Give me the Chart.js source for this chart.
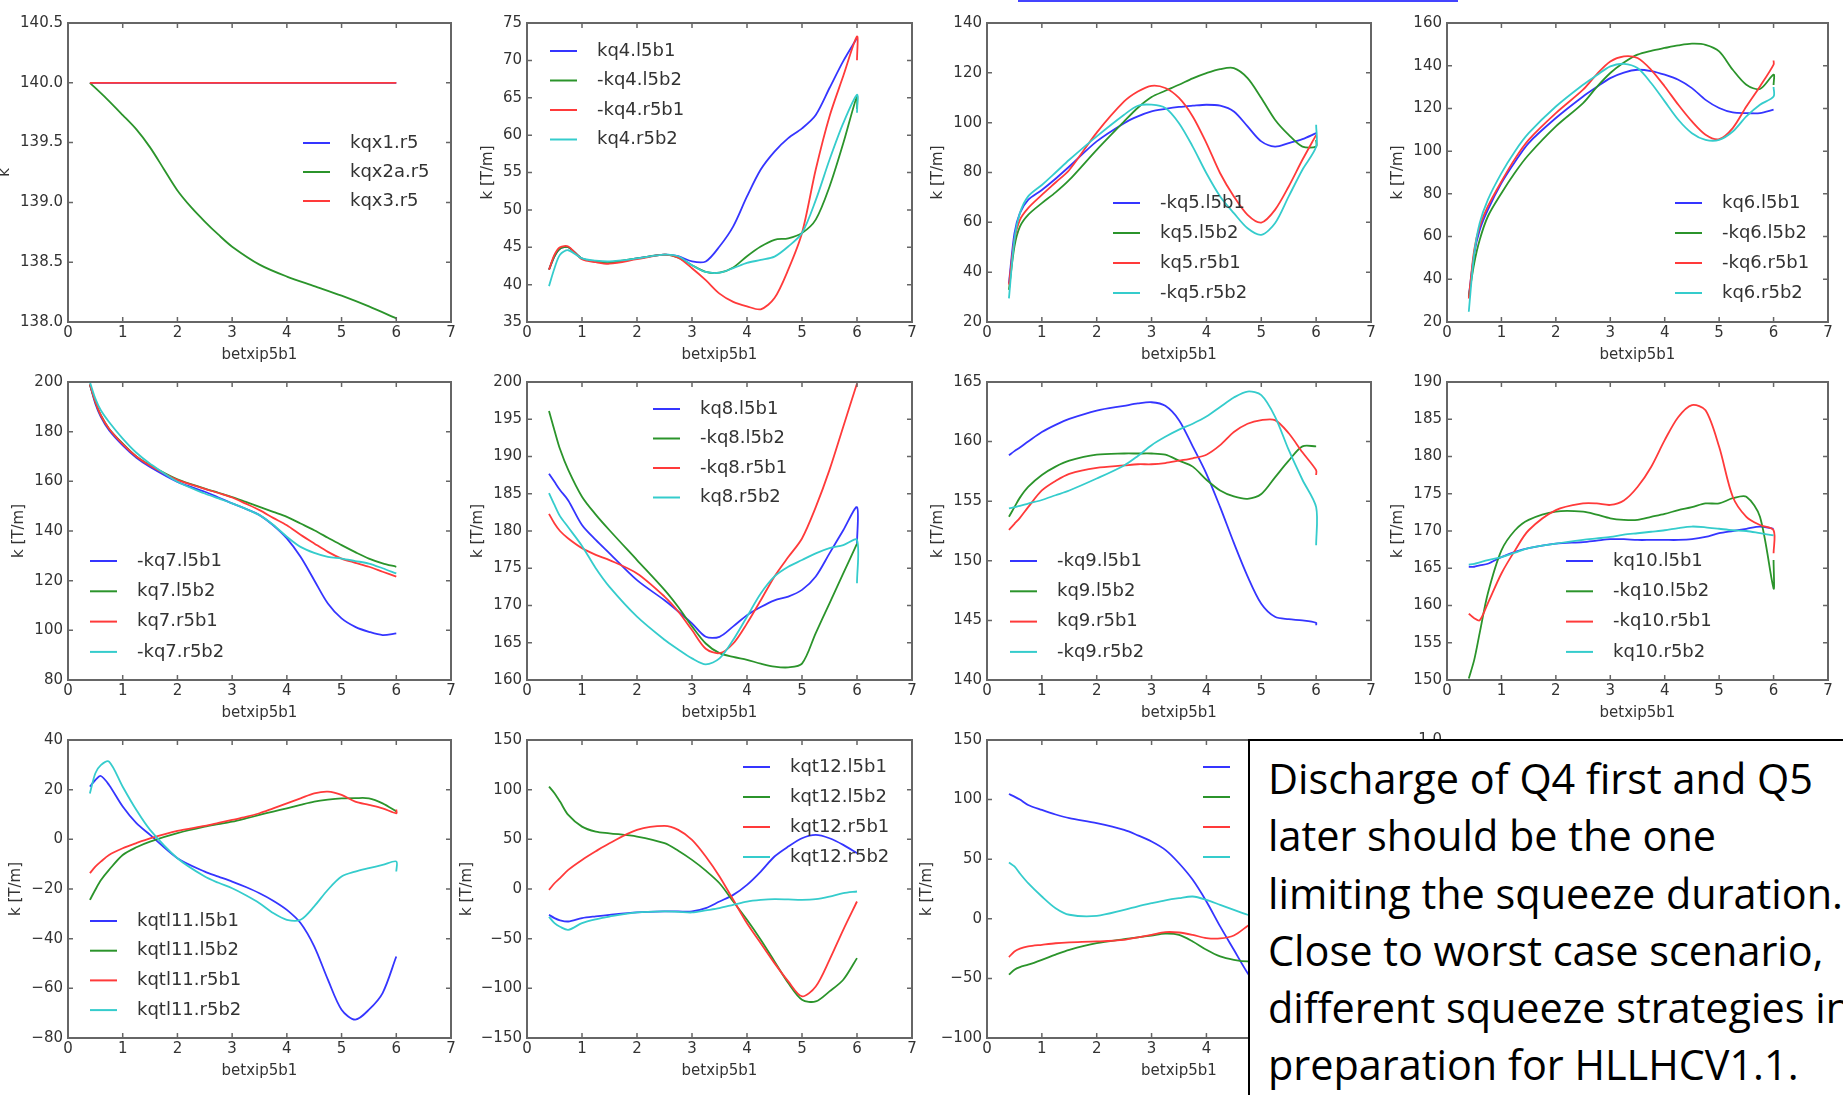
<!DOCTYPE html>
<html>
<head>
<meta charset="utf-8">
<title>Squeeze knobs vs betxip5b1</title>
<script src="https://cdn.jsdelivr.net/npm/chart.js@4.4.1/dist/chart.umd.min.js"></script>
<style>
    html, body { margin: 0; padding: 0; background: #fff; }
    #page { position: relative; width: 1843px; height: 1095px; overflow: hidden; background: #fff; }
    #page canvas { position: absolute; filter: blur(0.5px); }
    .link-line { position: absolute; left: 1018px; top: 0; width: 440px; height: 2px; background: #4444ff; }
    .note {
        position: absolute; left: 1248px; top: 739px; width: 700px; height: 420px; z-index: 10;
        box-sizing: border-box; border: 2px solid #000; background: #fff;
        padding: 9px 0 0 18px; color: #000; white-space: nowrap;
        font-family: 'Open Sans', sans-serif; font-size: 41.4px; line-height: 57.3px;
    }
</style>
</head>
<body>
<div id="page">
    <div class="link-line"></div>
    <div class="note">Discharge of Q4 first and Q5<br>later should be the one<br>limiting the squeeze duration.<br>Close to worst case scenario,<br>different squeeze strategies in<br>preparation for HLLHCV1.1.</div>
</div>
<script>
// betxip5b1 sample points (the last one is doubled: the scans end with a jump at 6)
const betxip = [0.4, 0.5, 0.6, 0.75, 1, 1.25, 1.5, 2, 2.5, 2.75, 3, 3.25, 3.5, 3.75, 4, 4.25, 4.5, 4.75, 5, 5.25, 5.5, 5.75, 6, 6];
const betxipShort = [0.4, 0.5, 0.6, 0.75, 1, 1.25, 1.5, 2, 2.5, 2.75, 3, 3.25, 3.5, 3.75, 4, 4.25, 4.5, 4.75, 5];
const betxipTriplet = [0.4, 0.7, 1, 1.25, 1.5, 1.75, 2, 2.25, 2.5, 2.75, 3, 3.5, 4, 4.5, 5, 5.5, 6];
const xTickValues = [0, 1, 2, 3, 4, 5, 6, 7];

// triplet
const kqxNames = ['kqx1.r5', 'kqx2a.r5', 'kqx3.r5'];
const kqxTicks = [138.0, 138.5, 139.0, 139.5, 140.0, 140.5];
const kqx1 = [140, 140, 140, 140, 140, 140, 140, 140, 140, 140, 140, 140, 140, 140, 140, 140, 140];
const kqx2a = [140.0, 139.87, 139.73, 139.61, 139.46, 139.28, 139.1, 138.96, 138.84, 138.73, 138.63, 138.48, 138.38, 138.3, 138.22, 138.13, 138.03];
const kqx3 = [140, 140, 140, 140, 140, 140, 140, 140, 140, 140, 140, 140, 140, 140, 140, 140, 140];

// Q4
const kq4Names = ['kq4.l5b1', '-kq4.l5b2', '-kq4.r5b1', 'kq4.r5b2'];
const kq4Ticks = [35, 40, 45, 50, 55, 60, 65, 70, 75];
const kq4L5b1 = [42.0, 43.8, 44.8, 45.0, 43.5, 43.1, 42.9, 43.5, 44.0, 43.8, 43.1, 43.1, 45.1, 47.8, 51.8, 55.4, 57.8, 59.6, 60.9, 62.7, 66.3, 69.9, 73.0, 73.0];
const kq4L5b2 = [42.0, 43.8, 44.8, 45.0, 43.5, 43.1, 43.0, 43.5, 44.0, 43.6, 42.6, 41.7, 41.6, 42.3, 43.8, 45.1, 46.0, 46.2, 46.9, 48.7, 53.1, 58.9, 65.2, 63.5];
const kq4R5b1 = [42.0, 44.0, 45.0, 45.1, 43.4, 43.0, 42.8, 43.4, 44.0, 43.6, 42.2, 40.6, 38.8, 37.7, 37.1, 36.7, 38.2, 42.0, 46.9, 55.4, 62.5, 67.9, 73.2, 70.0];
const kq4R5b2 = [39.8, 42.2, 44.0, 44.6, 43.5, 43.2, 43.1, 43.5, 44.0, 43.8, 42.6, 41.7, 41.6, 42.2, 42.9, 43.3, 43.75, 45.1, 46.9, 51.3, 56.7, 61.6, 65.4, 63.0];

// Q5
const kq5Names = ['-kq5.l5b1', 'kq5.l5b2', 'kq5.r5b1', '-kq5.r5b2'];
const kq5Ticks = [20, 40, 60, 80, 100, 120, 140];
const kq5L5b1 = [35.5, 55.6, 63.7, 69.0, 73.0, 77.5, 82.4, 92.5, 99.8, 102.5, 104.5, 105.5, 106.3, 106.8, 107.2, 106.8, 104.5, 98.5, 92.5, 90.4, 91.8, 93.4, 95.8, 95.8];
const kq5L5b2 = [32.9, 50.3, 58.3, 63.0, 67.7, 72.0, 77.0, 89.1, 100.5, 106.0, 110.3, 112.8, 115.2, 117.8, 119.9, 121.5, 121.9, 117.9, 109.9, 101.2, 95.1, 90.4, 90.4, 93.0];
const kq5R5b1 = [35.0, 53.0, 61.0, 65.7, 71.0, 76.0, 81.0, 96.0, 108.5, 112.5, 114.8, 113.9, 109.9, 102.5, 91.8, 79.7, 70.4, 63.0, 59.9, 65.0, 74.4, 85.1, 95.1, 95.1];
const kq5R5b2 = [29.5, 53.0, 63.7, 70.4, 75.0, 80.0, 85.1, 94.5, 103.2, 106.8, 107.2, 105.9, 99.8, 90.4, 79.7, 70.4, 63.7, 57.6, 55.0, 59.6, 70.4, 81.1, 90.4, 99.2];

// Q6
const kq6Names = ['kq6.l5b1', '-kq6.l5b2', '-kq6.r5b1', 'kq6.r5b2'];
const kq6Ticks = [20, 40, 60, 80, 100, 120, 140, 160];
const kq6L5b1 = [31.9, 52.0, 63.0, 72.5, 85.0, 95.0, 103.8, 115.5, 125.6, 130.0, 134.2, 136.8, 138.1, 137.5, 135.8, 133.4, 129.5, 124.0, 120.2, 118.1, 117.8, 117.8, 119.4, 119.4];
const kq6L5b2 = [32.0, 47.5, 58.4, 69.4, 80.3, 90.0, 98.3, 111.6, 122.5, 130.0, 136.6, 141.5, 145.2, 147.0, 148.3, 149.5, 150.3, 149.8, 146.7, 138.1, 131.1, 129.1, 135.8, 131.0];
const kq6R5b1 = [31.0, 53.75, 64.7, 74.1, 85.8, 96.5, 105.3, 117.8, 128.8, 136.0, 142.0, 144.4, 143.6, 138.1, 130.3, 121.7, 113.9, 107.7, 105.6, 110.8, 120.9, 130.3, 140.5, 142.5];
const kq6R5b2 = [24.8, 52.0, 66.25, 77.2, 89.7, 100.0, 108.4, 120.9, 131.1, 135.5, 139.7, 140.9, 138.9, 131.9, 123.3, 114.7, 108.4, 105.3, 105.3, 109.2, 116.25, 121.7, 125.6, 130.0];

// Q7
const kq7Names = ['-kq7.l5b1', 'kq7.l5b2', 'kq7.r5b1', '-kq7.r5b2'];
const kq7Ticks = [80, 100, 120, 140, 160, 180, 200];
const kq7L5b1 = [199.0, 191.3, 186.0, 180.6, 174.5, 169.5, 165.8, 159.8, 155.8, 153.5, 151.1, 148.9, 146.4, 142.3, 137.0, 129.6, 120.2, 110.8, 104.8, 101.4, 99.4, 98.1, 98.8, 98.8];
const kq7L5b2 = [199.0, 192.0, 186.6, 181.2, 175.2, 170.0, 166.5, 160.8, 157.1, 155.4, 153.7, 151.7, 149.7, 147.7, 145.7, 143.0, 140.3, 137.3, 134.3, 131.5, 128.9, 127.0, 125.6, 125.6];
const kq7R5b1 = [199.0, 192.0, 186.6, 181.2, 175.0, 170.0, 166.3, 160.6, 157.0, 155.3, 153.5, 151.0, 148.4, 145.3, 142.3, 138.5, 135.0, 131.6, 128.9, 127.2, 125.6, 123.6, 121.6, 121.6];
const kq7R5b2 = [200.0, 193.3, 188.6, 183.9, 177.2, 171.5, 167.1, 159.8, 155.1, 153.1, 151.1, 148.9, 146.4, 142.5, 137.7, 133.6, 131.2, 129.6, 128.9, 127.9, 126.9, 125.0, 122.9, 122.9];

// Q8
const kq8Names = ['kq8.l5b1', '-kq8.l5b2', '-kq8.r5b1', 'kq8.r5b2'];
const kq8Ticks = [160, 165, 170, 175, 180, 185, 190, 195, 200];
const kq8L5b1 = [187.7, 186.6, 185.5, 184.1, 180.8, 178.8, 177.0, 173.4, 170.7, 169.2, 167.6, 165.8, 165.8, 167.2, 168.7, 169.8, 170.7, 171.2, 172.1, 173.9, 177.0, 180.1, 183.2, 178.3];
const kq8L5b2 = [196.1, 193.5, 191.0, 188.2, 184.6, 182.2, 180.1, 176.1, 172.1, 169.8, 167.2, 164.9, 163.6, 163.1, 162.7, 162.2, 161.8, 161.7, 162.2, 166.3, 170.3, 174.3, 178.3, 178.3];
const kq8R5b1 = [182.3, 181.0, 180.0, 179.0, 177.7, 176.8, 176.1, 174.3, 171.2, 169.2, 166.7, 164.2, 163.6, 164.9, 167.6, 170.7, 173.9, 176.5, 179.0, 183.2, 188.2, 194.0, 199.8, 199.8];
const kq8R5b2 = [185.1, 183.5, 182.0, 180.5, 178.0, 175.0, 172.5, 168.5, 165.4, 164.1, 162.9, 162.1, 162.9, 165.4, 168.5, 171.6, 173.9, 175.2, 176.1, 177.0, 177.7, 178.1, 178.8, 173.0];

// Q9
const kq9Names = ['-kq9.l5b1', 'kq9.l5b2', 'kq9.r5b1', '-kq9.r5b2'];
const kq9Ticks = [140, 145, 150, 155, 160, 165];
const kq9L5b1 = [158.85, 159.2, 159.5, 160.0, 160.8, 161.4, 161.9, 162.6, 163.0, 163.2, 163.3, 163.0, 161.8, 159.6, 157.3, 154.5, 151.5, 148.7, 146.4, 145.3, 145.1, 145.0, 144.8, 144.6];
const kq9L5b2 = [153.7, 154.5, 155.3, 156.2, 157.2, 157.9, 158.4, 158.9, 159.0, 159.0, 159.0, 158.9, 158.4, 157.9, 156.8, 155.9, 155.4, 155.2, 155.6, 157.0, 158.4, 159.6, 159.6, 159.6];
const kq9R5b1 = [152.6, 153.1, 153.6, 154.5, 155.9, 156.7, 157.3, 157.8, 158.0, 158.1, 158.1, 158.2, 158.4, 158.6, 158.9, 159.7, 160.8, 161.5, 161.8, 161.8, 160.7, 159.1, 157.6, 157.2];
const kq9R5b2 = [154.4, 154.5, 154.6, 154.8, 155.1, 155.5, 155.9, 156.9, 158.0, 158.8, 159.7, 160.4, 161.0, 161.5, 162.1, 162.9, 163.7, 164.2, 163.9, 162.1, 159.3, 156.8, 154.5, 151.3];

// Q10
const kq10Names = ['kq10.l5b1', '-kq10.l5b2', '-kq10.r5b1', 'kq10.r5b2'];
const kq10Ticks = [150, 155, 160, 165, 170, 175, 180, 185, 190];
const kq10L5b1 = [165.2, 165.2, 165.4, 165.6, 166.5, 167.2, 167.7, 168.3, 168.5, 168.7, 168.9, 168.9, 168.8, 168.8, 168.8, 168.8, 168.9, 169.2, 169.7, 170.0, 170.3, 170.6, 170.3, 170.3];
const kq10L5b2 = [150.2, 152.7, 156.3, 161.6, 167.4, 170.1, 171.5, 172.6, 172.6, 172.2, 171.7, 171.5, 171.5, 171.9, 172.3, 172.8, 173.2, 173.7, 173.7, 174.4, 174.6, 171.9, 162.3, 166.1];
const kq10R5b1 = [158.9, 158.3, 158.0, 160.3, 164.3, 167.4, 170.1, 172.8, 173.7, 173.7, 173.5, 174.1, 175.9, 178.6, 182.2, 185.3, 186.9, 186.2, 181.3, 174.6, 171.9, 170.8, 170.1, 167.0];
const kq10R5b2 = [165.5, 165.6, 165.8, 166.1, 166.5, 167.1, 167.7, 168.3, 168.8, 169.0, 169.2, 169.5, 169.7, 169.9, 170.1, 170.4, 170.6, 170.5, 170.3, 170.1, 170.0, 169.7, 169.4, 169.4];

// trim quadrupole Q11
const kqtl11Names = ['kqtl11.l5b1', 'kqtl11.l5b2', 'kqtl11.r5b1', 'kqtl11.r5b2'];
const kqtl11Ticks = [-80, -60, -40, -20, 0, 20, 40];
const kqtl11L5b1 = [21.2, 23.9, 25.5, 21.9, 13.2, 6.5, 1.8, -7.6, -13.0, -15.0, -17.0, -19.2, -21.7, -24.7, -28.4, -33.7, -43.1, -56.5, -68.6, -72.6, -68.6, -61.9, -47.2, -47.2];
const kqtl11L5b2 = [-24.4, -20.3, -16.5, -12.3, -6.3, -3.2, -0.9, 2.5, 5.1, 6.1, 7.1, 8.4, 9.8, 11.2, 12.5, 13.9, 15.2, 16.0, 16.5, 16.6, 16.5, 14.5, 11.2, 11.2];
const kqtl11R5b1 = [-13.6, -11.0, -9.0, -6.3, -3.6, -1.5, 0.4, 3.4, 5.4, 6.6, 7.8, 9.0, 10.5, 12.5, 14.5, 16.5, 18.5, 19.2, 17.9, 15.2, 13.9, 12.5, 10.5, 12.0];
const kqtl11R5b2 = [18.5, 26.6, 29.9, 31.3, 21.2, 11.8, 3.8, -7.6, -15.0, -17.5, -19.7, -22.5, -25.7, -29.7, -32.4, -32.4, -27.0, -20.3, -15.0, -13.0, -11.6, -10.3, -8.9, -13.0];

// trim quadrupole Q12
const kqt12Names = ['kqt12.l5b1', 'kqt12.l5b2', 'kqt12.r5b1', 'kqt12.r5b2'];
const kqt12Ticks = [-150, -100, -50, 0, 50, 100, 150];
const kqt12L5b1 = [-26.0, -29.3, -31.5, -32.7, -29.3, -27.5, -26.0, -23.6, -22.6, -22.6, -22.6, -19.3, -12.6, -5.9, 4.2, 17.6, 32.7, 42.7, 51.1, 54.5, 51.1, 44.4, 36.0, 36.0];
const kqt12L5b2 = [103.1, 96.4, 88.0, 74.6, 62.8, 57.8, 56.1, 52.8, 46.1, 38.5, 29.3, 18.5, 5.8, -12.6, -31.0, -51.1, -72.9, -94.7, -111.5, -113.2, -103.1, -91.4, -69.6, -69.6];
const kqt12R5b1 = [-0.9, 5.8, 11.0, 19.3, 29.3, 38.0, 46.1, 59.5, 63.5, 59.5, 49.4, 32.7, 12.6, -10.9, -34.4, -54.5, -74.6, -93.0, -108.1, -98.1, -71.3, -41.1, -12.6, -12.6];
const kqt12R5b2 = [-28.0, -34.4, -38.0, -41.1, -34.4, -30.5, -27.7, -23.6, -22.6, -23.0, -23.6, -21.5, -19.3, -15.9, -12.6, -11.0, -10.2, -10.5, -10.9, -10.2, -7.6, -4.2, -2.5, -2.5];

// trim quadrupole Q13 (mostly hidden behind the note)
const kqt13Names = ['kqt13.l5b1', 'kqt13.l5b2', 'kqt13.r5b1', 'kqt13.r5b2'];
const kqt13Ticks = [-100, -50, 0, 50, 100, 150];
const kqt13L5b1 = [104.7, 102.5, 100.0, 95.5, 91.3, 87.5, 84.4, 80.2, 74.6, 70.0, 64.8, 57.8, 46.6, 32.7, 14.5, -6.4, -26.0, -45.5, -62.0];
const kqt13L5b2 = [-46.9, -42.7, -40.5, -38.5, -34.4, -30.0, -26.0, -20.4, -17.0, -15.5, -14.0, -12.5, -13.5, -19.0, -26.0, -31.6, -34.4, -35.8, -35.0];
const kqt13R5b1 = [-32.1, -27.4, -25.0, -23.2, -21.8, -20.5, -19.8, -19.0, -17.6, -15.5, -13.4, -11.2, -11.5, -13.5, -16.2, -16.5, -14.0, -6.0, 2.0];
const kqt13R5b2 = [47.2, 43.9, 38.0, 29.9, 18.7, 8.9, 3.4, 2.5, 7.5, 10.5, 13.1, 15.5, 17.3, 18.7, 15.9, 11.7, 7.5, 3.4, 0.0];

// empty last axes, only its top label peeks out above the note
const emptyTicks = [0.0, 0.2, 0.4, 0.6, 0.8, 1.0];

const lineColors = ['#3535ff', '#2b942b', '#ff3a3a', '#35cccc'];
const textColor = '#333';
const FONT = 'DejaVu Sans';

// room around each plot area inside its canvas
const PAD_L = 75, PAD_T = 15, PAD_R = 22, PAD_B = 50;
const TITLE_SIZE = 15;
const X_AXIS_H = 33 + TITLE_SIZE * 0.6;

const panels = [
    { left: 68, top: 23, width: 383, height: 299, yTicks: kqxTicks, dec: 1, yTitle: 'k', gap: 63,
      x: betxipTriplet, names: kqxNames, data: [kqx1, kqx2a, kqx3], legend: { x: 235, y: 120, dy: 29 } },
    { left: 527, top: 23, width: 385, height: 299, yTicks: kq4Ticks, dec: 0, yTitle: 'k [T/m]', gap: 39,
      x: betxip, names: kq4Names, data: [kq4L5b1, kq4L5b2, kq4R5b1, kq4R5b2], legend: { x: 23, y: 28, dy: 29.5 } },
    { left: 987, top: 23, width: 384, height: 299, yTicks: kq5Ticks, dec: 0, yTitle: 'k [T/m]', gap: 49,
      x: betxip, names: kq5Names, data: [kq5L5b1, kq5L5b2, kq5R5b1, kq5R5b2], legend: { x: 126, y: 180, dy: 30 } },
    { left: 1447, top: 23, width: 381, height: 299, yTicks: kq6Ticks, dec: 0, yTitle: 'k [T/m]', gap: 49,
      x: betxip, names: kq6Names, data: [kq6L5b1, kq6L5b2, kq6R5b1, kq6R5b2], legend: { x: 228, y: 180, dy: 30 } },
    { left: 68, top: 382, width: 383, height: 298, yTicks: kq7Ticks, dec: 0, yTitle: 'k [T/m]', gap: 49,
      x: betxip, names: kq7Names, data: [kq7L5b1, kq7L5b2, kq7R5b1, kq7R5b2], legend: { x: 22, y: 179, dy: 30.3 } },
    { left: 527, top: 382, width: 385, height: 298, yTicks: kq8Ticks, dec: 0, yTitle: 'k [T/m]', gap: 49,
      x: betxip, names: kq8Names, data: [kq8L5b1, kq8L5b2, kq8R5b1, kq8R5b2], legend: { x: 126, y: 27, dy: 29.5 } },
    { left: 987, top: 382, width: 384, height: 298, yTicks: kq9Ticks, dec: 0, yTitle: 'k [T/m]', gap: 49,
      x: betxip, names: kq9Names, data: [kq9L5b1, kq9L5b2, kq9R5b1, kq9R5b2], legend: { x: 23, y: 179, dy: 30.3 } },
    { left: 1447, top: 382, width: 381, height: 298, yTicks: kq10Ticks, dec: 0, yTitle: 'k [T/m]', gap: 49,
      x: betxip, names: kq10Names, data: [kq10L5b1, kq10L5b2, kq10R5b1, kq10R5b2], legend: { x: 119, y: 179, dy: 30.3 } },
    { left: 68, top: 740, width: 383, height: 298, yTicks: kqtl11Ticks, dec: 0, yTitle: 'k [T/m]', gap: 52,
      x: betxip, names: kqtl11Names, data: [kqtl11L5b1, kqtl11L5b2, kqtl11R5b1, kqtl11R5b2], legend: { x: 22, y: 181, dy: 29.7 } },
    { left: 527, top: 740, width: 385, height: 298, yTicks: kqt12Ticks, dec: 0, yTitle: 'k [T/m]', gap: 60,
      x: betxip, names: kqt12Names, data: [kqt12L5b1, kqt12L5b2, kqt12R5b1, kqt12R5b2], legend: { x: 216, y: 27, dy: 30 } },
    { left: 987, top: 740, width: 384, height: 298, yTicks: kqt13Ticks, dec: 0, yTitle: 'k [T/m]', gap: 60,
      x: betxipShort, names: kqt13Names, data: [kqt13L5b1, kqt13L5b2, kqt13R5b1, kqt13R5b2], legend: { x: 216, y: 27, dy: 30 } },
    { left: 1447, top: 740, width: 381, height: 298, yTicks: emptyTicks, dec: 1, yTitle: '', gap: 50,
      x: [], names: [], data: [], legend: null }
];

function formatTick(value, dec) {
    return value.toFixed(dec).replace('-', '\u2212');
}

// matplotlib-like box with inward ticks on all four sides, and the in-axes legend
const mplFramePlugin = {
    id: 'mplFrame',
    afterDraw(chart, args, opts) {
        const { ctx, chartArea: a, scales } = chart;
        ctx.save();
        ctx.strokeStyle = '#666';
        ctx.lineWidth = 1.5;
        ctx.beginPath();
        scales.x.ticks.forEach(t => {
            const px = scales.x.getPixelForValue(t.value);
            ctx.moveTo(px, a.bottom); ctx.lineTo(px, a.bottom - 5);
            ctx.moveTo(px, a.top); ctx.lineTo(px, a.top + 5);
        });
        scales.y.ticks.forEach(t => {
            const py = scales.y.getPixelForValue(t.value);
            ctx.moveTo(a.left, py); ctx.lineTo(a.left + 5, py);
            ctx.moveTo(a.right, py); ctx.lineTo(a.right - 5, py);
        });
        ctx.stroke();
        ctx.lineWidth = 2;
        ctx.strokeRect(a.left, a.top, a.right - a.left, a.bottom - a.top);

        const lg = opts.legend;
        if (lg) {
            ctx.font = '18px "' + FONT + '"';
            ctx.textBaseline = 'middle';
            ctx.textAlign = 'left';
            chart.data.datasets.forEach((ds, i) => {
                const x = a.left + lg.x;
                const y = a.top + lg.y + i * lg.dy;
                ctx.strokeStyle = ds.borderColor;
                ctx.lineWidth = 2;
                ctx.beginPath();
                ctx.moveTo(x, y);
                ctx.lineTo(x + 27, y);
                ctx.stroke();
                ctx.fillStyle = textColor;
                ctx.fillText(ds.label, x + 47, y);
            });
        }
        ctx.restore();
    }
};

function buildPanel(p) {
    const page = document.getElementById('page');
    const canvas = document.createElement('canvas');
    const cw = PAD_L + p.width + PAD_R;
    const ch = PAD_T + p.height + PAD_B;
    canvas.width = cw;
    canvas.height = ch;
    canvas.style.width = cw + 'px';
    canvas.style.height = ch + 'px';
    canvas.style.left = (p.left - PAD_L) + 'px';
    canvas.style.top = (p.top - PAD_T) + 'px';
    page.appendChild(canvas);

    const yAxisW = p.gap + TITLE_SIZE * 0.6;
    const tickFont = { family: FONT, size: 15 };
    const titleFont = { family: FONT, size: TITLE_SIZE };
    const n = p.data.length;

    const datasets = p.data.map((values, i) => ({
        label: p.names[i],
        data: values.map((v, j) => ({ x: p.x[j], y: v })),
        borderColor: lineColors[i],
        borderWidth: 1.8,
        pointRadius: 0,
        fill: false,
        tension: 0.3,
        order: n - i
    }));

    return new Chart(canvas.getContext('2d'), {
        type: 'line',
        data: { datasets },
        options: {
            responsive: false,
            animation: false,
            devicePixelRatio: 1,
            layout: {
                padding: { left: PAD_L - yAxisW, top: PAD_T, right: PAD_R, bottom: PAD_B - X_AXIS_H }
            },
            plugins: {
                legend: { display: false },
                tooltip: { enabled: false },
                mplFrame: { legend: p.legend }
            },
            scales: {
                x: {
                    type: 'linear',
                    min: xTickValues[0],
                    max: xTickValues[xTickValues.length - 1],
                    afterBuildTicks: scale => { scale.ticks = xTickValues.map(v => ({ value: v })); },
                    afterFit: scale => { scale.height = X_AXIS_H; },
                    grid: { display: false, drawTicks: false },
                    border: { display: false },
                    ticks: {
                        padding: 2, color: textColor, font: tickFont,
                        autoSkip: false, maxRotation: 0,
                        callback: v => formatTick(v, 0)
                    },
                    title: { display: true, text: 'betxip5b1', color: textColor, font: titleFont, padding: 0 }
                },
                y: {
                    type: 'linear',
                    min: p.yTicks[0],
                    max: p.yTicks[p.yTicks.length - 1],
                    afterBuildTicks: scale => { scale.ticks = p.yTicks.map(v => ({ value: v })); },
                    afterFit: scale => { scale.width = yAxisW; },
                    grid: { display: false, drawTicks: false },
                    border: { display: false },
                    ticks: {
                        padding: 5, color: textColor, font: tickFont,
                        callback: v => formatTick(v, p.dec)
                    },
                    title: { display: p.yTitle !== '', text: p.yTitle, color: textColor, font: titleFont, padding: 0 }
                }
            }
        },
        plugins: [mplFramePlugin]
    });
}

panels.forEach(buildPanel);
</script>
</body>
</html>
